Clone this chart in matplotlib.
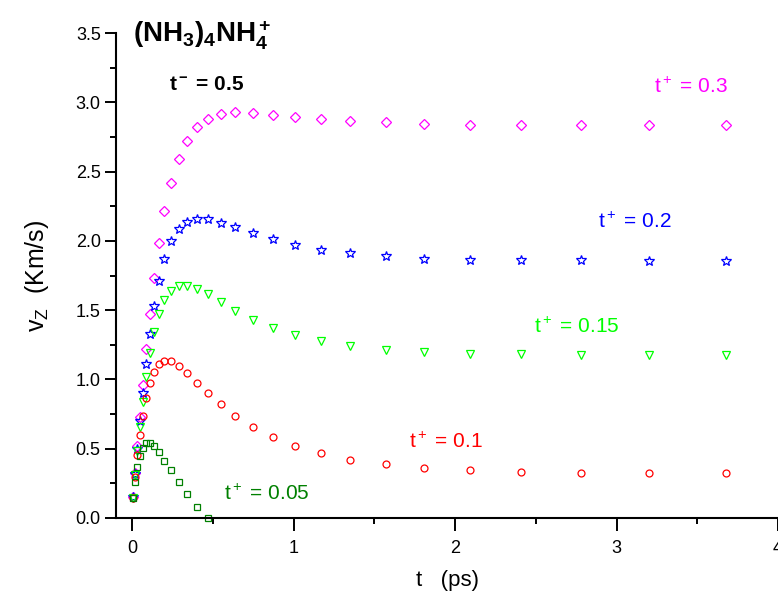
import matplotlib
matplotlib.use("Agg")
import matplotlib.pyplot as plt
from matplotlib.ticker import MultipleLocator

plt.rcParams['font.family'] = ['Liberation Sans', 'DejaVu Sans']
plt.rcParams['mathtext.fontset'] = 'custom'
plt.rcParams['mathtext.rm'] = 'Liberation Sans'
plt.rcParams['mathtext.it'] = 'Liberation Sans'
plt.rcParams['mathtext.bf'] = 'Liberation Sans:bold'

# time grid (ps)
t = [0.008, 0.02, 0.033, 0.05, 0.066, 0.087, 0.11, 0.135, 0.166, 0.20,
     0.24, 0.29, 0.34, 0.40, 0.47, 0.55, 0.64, 0.75, 0.87, 1.01,
     1.17, 1.35, 1.57, 1.81, 2.09, 2.41, 2.78, 3.20, 3.68]

v_030 = [0.154, 0.322, 0.519, 0.726, 0.96, 1.219, 1.47, 1.732, 1.986, 2.215,
         2.419, 2.588, 2.720, 2.819, 2.879, 2.913, 2.927, 2.924, 2.910, 2.895,
         2.877, 2.864, 2.855, 2.843, 2.838, 2.835, 2.835, 2.833, 2.833]
v_020 = [0.15, 0.32, 0.50, 0.70, 0.90, 1.111, 1.325, 1.527, 1.71, 1.871,
         1.996, 2.083, 2.138, 2.16, 2.155, 2.131, 2.097, 2.054, 2.011, 1.968,
         1.934, 1.91, 1.888, 1.871, 1.864, 1.861, 1.859, 1.857, 1.857]
v_015 = [0.142, 0.31, 0.483, 0.654, 0.839, 1.02, 1.188, 1.34, 1.472, 1.573,
         1.64, 1.674, 1.676, 1.654, 1.614, 1.556, 1.491, 1.431, 1.371, 1.32,
         1.277, 1.24, 1.215, 1.197, 1.184, 1.18, 1.176, 1.173, 1.174]
v_010 = [0.145, 0.298, 0.455, 0.599, 0.736, 0.868, 0.976, 1.056, 1.111, 1.131,
         1.131, 1.097, 1.046, 0.976, 0.90, 0.82, 0.738, 0.659, 0.587, 0.522,
         0.467, 0.421, 0.387, 0.363, 0.344, 0.332, 0.325, 0.322, 0.322]
v_005 = [0.142, 0.262, 0.366, 0.447, 0.503, 0.539, 0.543, 0.519, 0.474, 0.413,
         0.344, 0.262, 0.173, 0.082, 0.0]

series_labels = ["0.3", "0.2", "0.15", "0.1", "0.05"]
xticks = [0, 1, 2, 3, 4]
yticks = [0.0, 0.5, 1.0, 1.5, 2.0, 2.5, 3.0, 3.5]

fig = plt.figure(figsize=(7.78, 5.96), dpi=100)
ax = fig.add_axes([116/778, 1-518/596, (778-116)/778, (518-33)/596])

kw = dict(linestyle='none', markerfacecolor='none', markeredgewidth=0.9, clip_on=False)
ax.plot(t, v_030, marker='D', ms=5.2, color='#ff00ff', **kw)
ax.plot(t, v_020, marker='*', ms=7, color='#0000ff', **kw)
ax.plot(t, v_015, marker='v', ms=6, color='#00ff00', **kw)
ax.plot(t, v_010, marker='o', ms=5, color='#ff0000', **kw)
ax.plot(t[:len(v_005)], v_005, marker='s', ms=4.6, color='#008000', **kw)

ax.set_xlim(-0.1, 4.0)
ax.set_ylim(0, 3.5)
ax.set_xticks(xticks)
ax.set_yticks(yticks)
ax.set_yticklabels([f"{y:.1f}" for y in yticks])
ax.xaxis.set_minor_locator(MultipleLocator(0.5))
ax.yaxis.set_minor_locator(MultipleLocator(0.25))
ax.tick_params(which='major', direction='out', length=8, width=1.4, labelsize=13, pad=3)
ax.tick_params(axis='x', which='major', length=9, pad=7)
ax.tick_params(which='minor', direction='out', length=4, width=1.4)
for s in ['top', 'right']:
    ax.spines[s].set_visible(False)
for s in ['left', 'bottom']:
    ax.spines[s].set_linewidth(1.5)

ax.set_xlabel('t   (ps)', fontsize=16, labelpad=9)
ax.set_ylabel(r'$\mathregular{v_Z}$  (Km/s)', fontsize=18, labelpad=18)

fs = 15
ax.text(3.23, 3.07, r'$\mathregular{t^+}$ = ' + series_labels[0], color='#ff00ff', fontsize=fs, va='baseline')
ax.text(2.885, 2.095, r'$\mathregular{t^+}$ = ' + series_labels[1], color='#0000ff', fontsize=fs, va='baseline')
ax.text(2.49, 1.337, r'$\mathregular{t^+}$ = ' + series_labels[2], color='#00ff00', fontsize=fs, va='baseline')
ax.text(1.716, 0.503, r'$\mathregular{t^+}$ = ' + series_labels[3], color='#ff0000', fontsize=fs, va='baseline')
ax.text(0.567, 0.13, r'$\mathregular{t^+}$ = ' + series_labels[4], color='#008000', fontsize=fs, va='baseline')

ax.text(0.006, 3.43, r'$\mathbf{(NH_3)_4NH_4^+}$', fontsize=20, va='baseline')
ax.text(0.226, 3.088, r'$\mathbf{t^-}$ = 0.5', fontsize=15, fontweight='bold', va='baseline')

fig.savefig('out.png', dpi=100)
